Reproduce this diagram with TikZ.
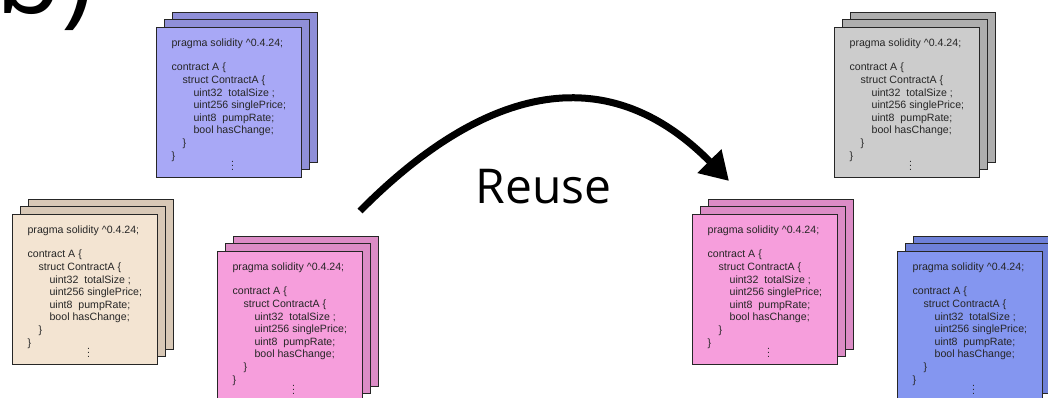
\documentclass[tikz,border=0pt]{standalone}
\usepackage{fontspec}
\usepackage{xcolor}
\usepackage{tikz}
\usetikzlibrary{arrows.meta}

\newfontfamily\codefont{Liberation Sans}
\newfontfamily\labelfont{Open Sans}

\definecolor{lavfront}{RGB}{168,168,246}
\definecolor{lavback}{RGB}{143,143,216}
\definecolor{beigefront}{RGB}{243,228,210}
\definecolor{beigeback}{RGB}{216,200,182}
\definecolor{pinkfront}{RGB}{246,158,220}
\definecolor{pinkback}{RGB}{220,140,198}
\definecolor{grayfront}{RGB}{204,204,204}
\definecolor{grayback}{RGB}{174,174,174}
\definecolor{bluefront}{RGB}{132,150,240}
\definecolor{blueback}{RGB}{110,128,216}

\newcommand\codetext{%
\rule{0pt}{13.5pt}pragma solidity \textasciicircum 0.4.24;\\[11.8pt]
contract A \{\\
\hspace*{11pt}struct ContractA \{\\
\hspace*{22pt}uint32\ \ totalSize ;\\
\hspace*{22pt}uint256 singlePrice;\\
\hspace*{22pt}uint8\ \ pumpRate;\\
\hspace*{22pt}bool hasChange;\\
\hspace*{11pt}\}\\
\}\\
\hspace*{59.5pt}\raisebox{1.5pt}{\smash{$\vdots$}}}

\begin{document}
\begin{tikzpicture}[
  x=1pt, y=-1pt,
  sheet/.style={draw=black!85, line width=0.7pt, anchor=north west, align=left,
    inner sep=0pt, minimum width=145pt, minimum height=150pt,
    text=black!85, font=\codefont\fontsize{10.6}{12.6}\selectfont},
  sheetback/.style={draw=black!85, line width=0.7pt},
  bigtext/.style={font=\labelfont\fontsize{48}{50}\selectfont, inner sep=0pt},
  reuse/.style={-{Triangle[length=28pt,width=32pt]}, line width=7pt}
]
\useasboundingbox (0,0) rectangle (1048,398);
\node[anchor=base west, inner sep=0pt, font=\labelfont\fontsize{108}{108}\selectfont] (panel) at (-5,14) {b)};
\foreach \x/\y/\fc/\bc/\n in {156/27/lavfront/lavback/srcA, 12/214/beigefront/beigeback/srcB,
    217/251/pinkfront/pinkback/srcC, 692/214/pinkfront/pinkback/dstC,
    834/27/grayfront/grayback/dstA, 897/251/bluefront/blueback/dstB} {
  \draw[sheetback, fill=\bc] (\x+16,\y-15) rectangle ++(145,150);
  \draw[sheetback, fill=\bc] (\x+8,\y-7.5) rectangle ++(145,150);
  \node[sheet, fill=\fc] (\n) at (\x,\y) {\codetext};
}
\node[bigtext, anchor=base] (reusetext) at (543.5,203) {Reuse};
\coordinate (from) at (360,211);
\coordinate (to) at (729,181);
\draw[reuse] (from) .. controls (450,120) and (585,35) .. (to);
\end{tikzpicture}
\end{document}
